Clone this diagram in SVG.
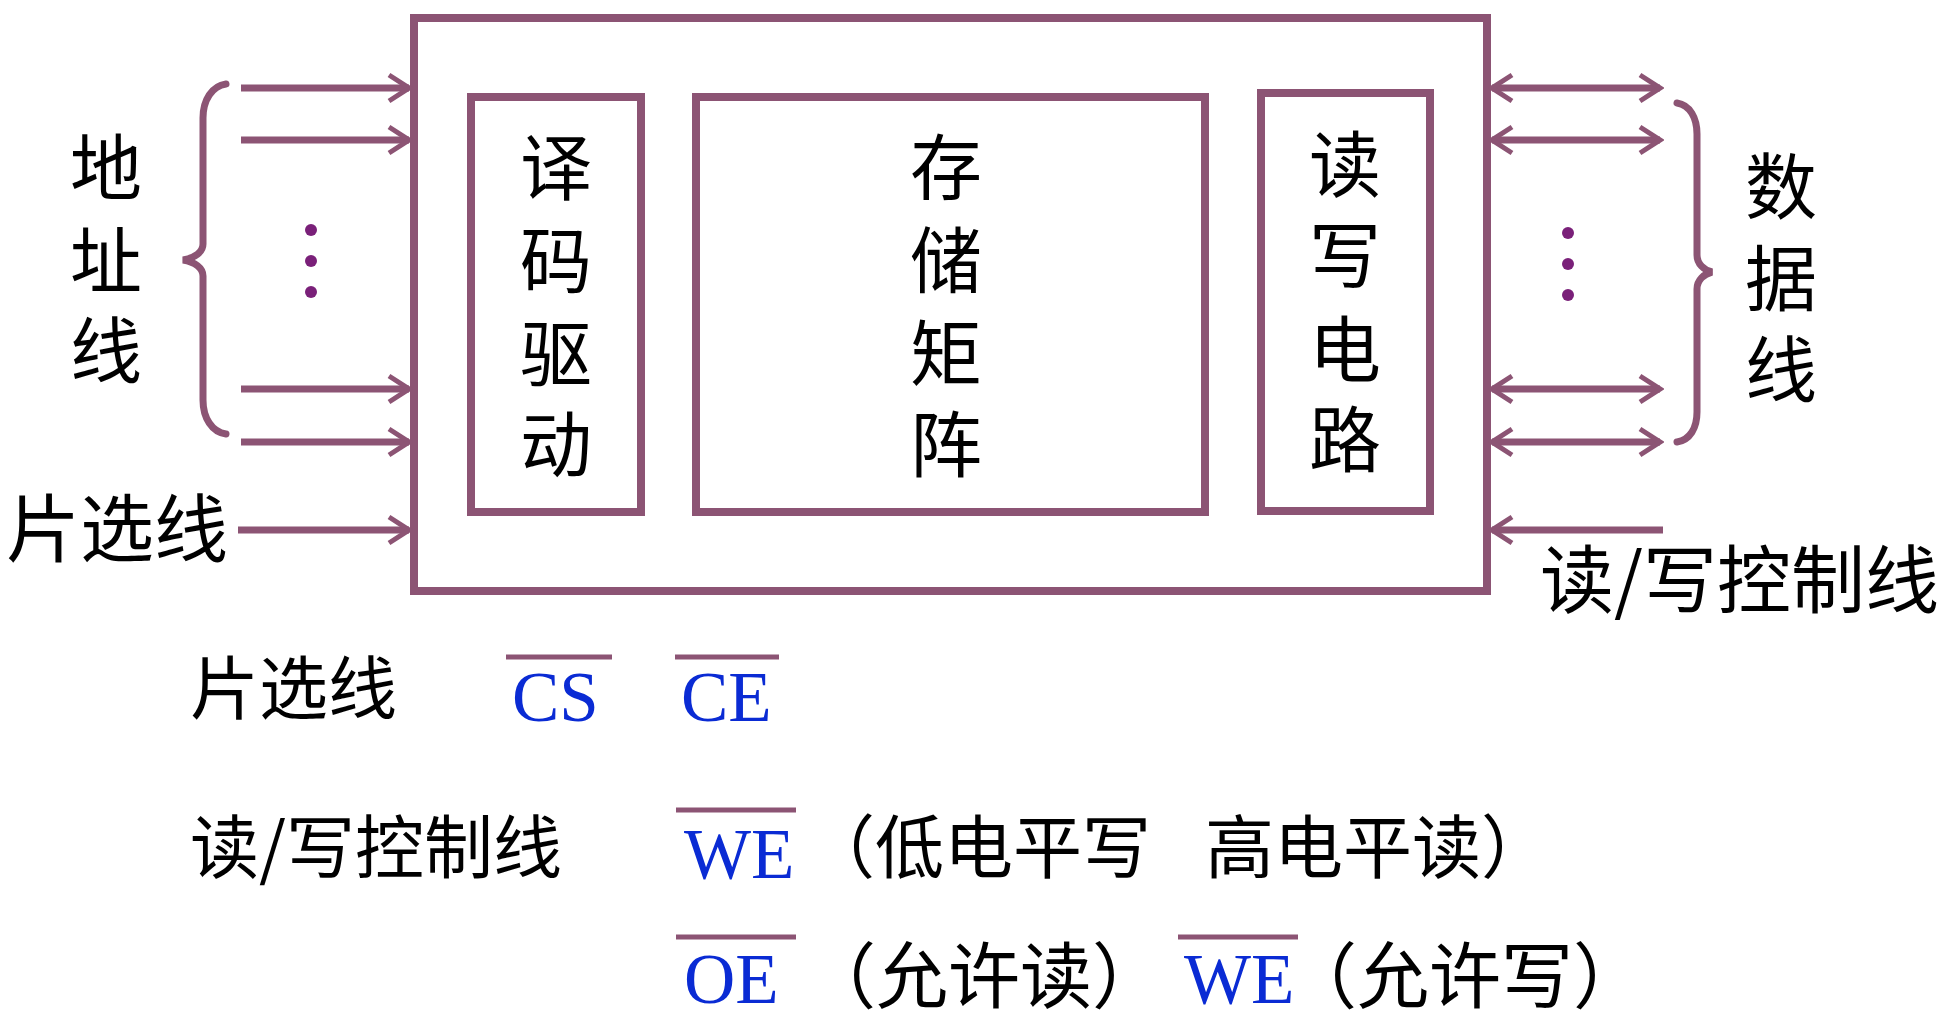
<svg xmlns="http://www.w3.org/2000/svg" width="1960" height="1024" viewBox="0 0 1960 1024">
<style>
.box{fill:none;stroke:#8C5474;stroke-width:8}
.ln{fill:none;stroke:#8C5474;stroke-width:7}
.br{fill:none;stroke:#8C5474;stroke-width:7;stroke-linecap:round}
.ov{stroke:#8C5474;stroke-width:5}
.cj{font-family:"Noto Sans CJK SC","Noto Sans",sans-serif;fill:#000}
.big{font-size:72px;text-anchor:middle}
.lat{font-family:"Liberation Serif","Times New Roman",serif;fill:#0A2BD4;font-size:71px}
.dot{fill:#7A2079}
</style>
<defs>
<marker id="ah" viewBox="-24 -16 28 32" refX="0" refY="0" markerWidth="28" markerHeight="32" markerUnits="userSpaceOnUse" orient="auto-start-reverse">
<polyline points="-20,-13 0,0 -20,13" fill="none" stroke="#8C5474" stroke-width="5" stroke-linejoin="miter"/>
</marker>
</defs>
<rect width="1960" height="1024" fill="#fff"/>

<g id="chip">
<rect class="box" x="414" y="18" width="1073" height="573"/>
</g>
<g id="decoder">
<rect class="box" x="471" y="97" width="170" height="415"/>
<text class="cj big"><tspan x="556" y="194">译</tspan><tspan x="556" y="287">码</tspan><tspan x="556" y="380">驱</tspan><tspan x="556" y="471">动</tspan></text>
</g>
<g id="matrix">
<rect class="box" x="696" y="97" width="509" height="415"/>
<text class="cj big"><tspan x="946" y="194">存</tspan><tspan x="946" y="287">储</tspan><tspan x="946" y="380">矩</tspan><tspan x="946" y="471">阵</tspan></text>
</g>
<g id="rwcircuit">
<rect class="box" x="1261" y="93" width="169" height="418"/>
<text class="cj big"><tspan x="1345" y="191">读</tspan><tspan x="1345" y="282">写</tspan><tspan x="1345" y="376">电</tspan><tspan x="1345" y="466">路</tspan></text>
</g>

<g id="address-label">
<text class="cj big"><tspan x="106" y="194">地</tspan><tspan x="106" y="287">址</tspan><tspan x="106" y="377">线</tspan></text>
<path class="br" d="M226,84 C212,86 203,100 203,118 L203,244 C203,252 195,258 183,260 C195,262 203,268 203,276 L203,400 C203,418 212,432 226,434"/>
<circle class="dot" cx="311" cy="230" r="6"/>
<circle class="dot" cx="311" cy="261" r="6"/>
<circle class="dot" cx="311" cy="292" r="6"/>
</g>
<g id="data-label">
<text class="cj big"><tspan x="1781" y="213">数</tspan><tspan x="1781" y="305">据</tspan><tspan x="1781" y="396">线</tspan></text>
<path class="br" d="M1677,103 C1690,105 1697,118 1697,134 L1697,255 C1697,264 1704,270 1712,272 C1704,274 1697,280 1697,289 L1697,412 C1697,428 1690,440 1677,442"/>
<circle class="dot" cx="1568" cy="233" r="6"/>
<circle class="dot" cx="1568" cy="264" r="6"/>
<circle class="dot" cx="1568" cy="295" r="6"/>
</g>
<g id="cs-label">
<text class="cj" x="6" y="556" font-size="74">片选线</text>
</g>
<g id="rw-label">
<text class="cj" x="1540" y="607" font-size="74">读/写控制线</text>
</g>

<g id="connectors">
<line class="ln" x1="241" y1="88" x2="409" y2="88" marker-end="url(#ah)"/>
<line class="ln" x1="241" y1="140" x2="409" y2="140" marker-end="url(#ah)"/>
<line class="ln" x1="241" y1="389" x2="409" y2="389" marker-end="url(#ah)"/>
<line class="ln" x1="241" y1="442" x2="409" y2="442" marker-end="url(#ah)"/>
<line class="ln" x1="238" y1="530" x2="409" y2="530" marker-end="url(#ah)"/>
<line class="ln" x1="1492" y1="88" x2="1660" y2="88" marker-start="url(#ah)" marker-end="url(#ah)"/>
<line class="ln" x1="1492" y1="140" x2="1660" y2="140" marker-start="url(#ah)" marker-end="url(#ah)"/>
<line class="ln" x1="1492" y1="389" x2="1660" y2="389" marker-start="url(#ah)" marker-end="url(#ah)"/>
<line class="ln" x1="1492" y1="442" x2="1660" y2="442" marker-start="url(#ah)" marker-end="url(#ah)"/>
<line class="ln" x1="1663" y1="530" x2="1492" y2="530" marker-end="url(#ah)"/>
</g>

<g id="legend">
<text class="cj" x="190" y="714" font-size="69">片选线</text>
<line class="ov" x1="506" y1="657" x2="612" y2="657"/>
<text class="lat" x="512" y="721">CS</text>
<line class="ov" x1="675" y1="657" x2="779" y2="657"/>
<text class="lat" x="681" y="721">CE</text>

<text class="cj" x="190" y="873" font-size="69">读/写控制线</text>
<line class="ov" x1="676" y1="810" x2="796" y2="810"/>
<text class="lat" x="684" y="878">WE</text>
<text class="cj" x="806" y="873" font-size="69">（低电平写</text>
<text class="cj" x="1205" y="873" font-size="69">高电平读）</text>

<line class="ov" x1="676" y1="937" x2="796" y2="937"/>
<text class="lat" x="684" y="1003">OE</text>
<text class="cj" x="804" y="1002" font-size="72">（允许读）</text>
<line class="ov" x1="1178" y1="937" x2="1298" y2="937"/>
<text class="lat" x="1184" y="1003">WE</text>
<text class="cj" x="1285" y="1002" font-size="72">（允许写）</text>
</g>
</svg>
